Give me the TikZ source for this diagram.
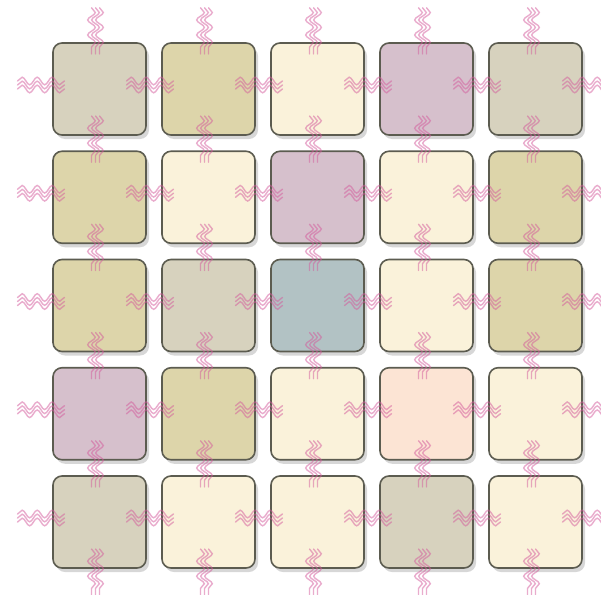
\documentclass[tikz,border=0pt]{standalone}
\usetikzlibrary{calc,shadows,decorations.pathmorphing}

\definecolor{edgec}{RGB}{92,92,80}
\definecolor{springc}{RGB}{212,90,156}
\definecolor{grayb}{RGB}{215,210,190}
\definecolor{olivey}{RGB}{221,213,170}
\definecolor{creamy}{RGB}{250,242,218}
\definecolor{mauvey}{RGB}{214,192,204}
\definecolor{bluegr}{RGB}{178,194,196}
\definecolor{peachy}{RGB}{252,228,212}

% spring between two cells (or a cell and its periodic image)
\newcommand\hspring[2]{\foreach \o in {-4,0,4}
  \draw[spring] ($(#1)!31pt!(#2)+(-4,\o-4)$) -- ($(#2)!31pt!(#1)+(-4,\o-4)$);}
\newcommand\vspring[2]{\foreach \o in {-4,0,4}
  \draw[spring] ($(#1)!31pt!(#2)+(\o-4,-4)$) -- ($(#2)!31pt!(#1)+(\o-4,-4)$);}

\begin{document}
\begin{tikzpicture}[
  x=1pt, y=-1pt,
  cell/.style={draw=edgec, line width=1.6pt, rounded corners=9pt, minimum width=93pt, minimum height=92pt, fill=#1,
    drop shadow={shadow xshift=3pt, shadow yshift=-4pt, opacity=.22, fill=black!70}},
  spring/.style={draw=springc, line width=1.4pt, opacity=.5, line cap=round,
    decorate, decoration={snake, amplitude=3.8pt, segment length=15pt}},
]
\clip (0,0) rectangle (601,594);
\fill[white] (0,0) rectangle (601,594);

% cells
\foreach \cols [count=\r] in {
  {grayb,olivey,creamy,mauvey,grayb},
  {olivey,creamy,mauvey,creamy,olivey},
  {olivey,grayb,bluegr,creamy,olivey},
  {mauvey,olivey,creamy,peachy,creamy},
  {grayb,creamy,creamy,grayb,creamy}} {
  \foreach \fc [count=\c] in \cols
    \node[cell=\fc] (c-\r-\c) at ({99.5+109*(\c-1)},{89+108.25*(\r-1)}) {};
}

% periodic images beyond the border
\foreach \i in {1,...,5} {
  \coordinate (w-\i) at ($(c-\i-1)+(-109,0)$);
  \coordinate (e-\i) at ($(c-\i-5)+(109,0)$);
  \coordinate (n-\i) at ($(c-1-\i)+(0,-108.25)$);
  \coordinate (s-\i) at ($(c-5-\i)+(0,108.25)$);
}

% springs
\foreach \i in {1,...,5} {
  \hspring{w-\i}{c-\i-1}
  \hspring{c-\i-5}{e-\i}
  \vspring{n-\i}{c-1-\i}
  \vspring{c-5-\i}{s-\i}
  \foreach \j [evaluate=\j as \k using int(\j+1)] in {1,...,4} {
    \hspring{c-\i-\j}{c-\i-\k}
    \vspring{c-\j-\i}{c-\k-\i}
  }
}
\end{tikzpicture}
\end{document}
